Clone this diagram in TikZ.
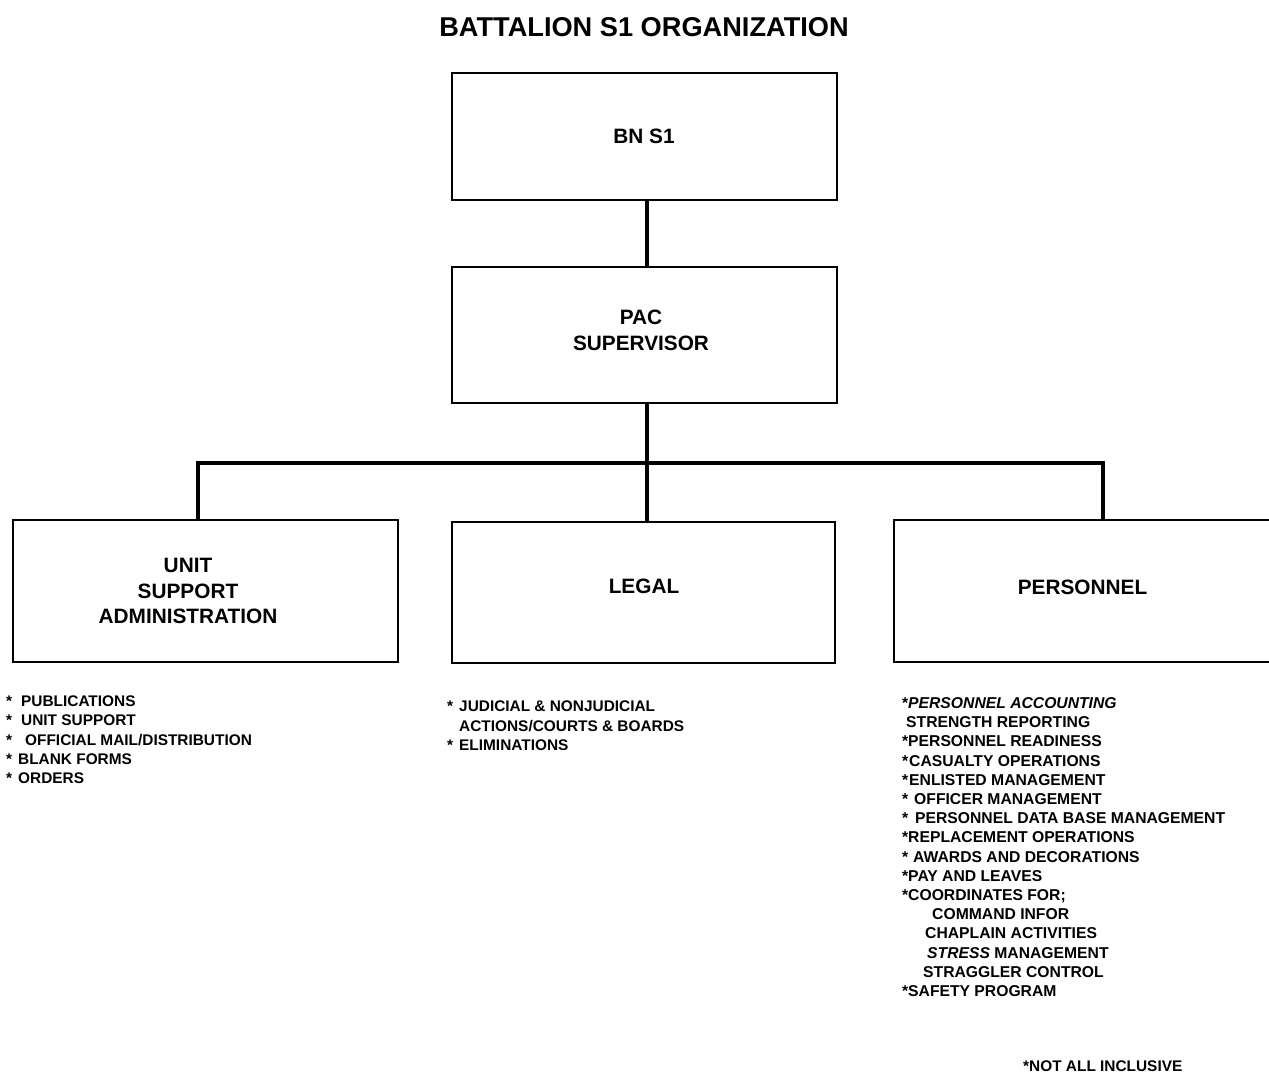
\documentclass[tikz,border=0pt]{standalone}
\usepackage{fontspec}
\setmainfont{Liberation Sans}
% asterisk bullet set in a box of the given width
\newcommand\bul[1]{\makebox[#1][l]{*}}
\begin{document}
\begin{tikzpicture}[x=1pt,y=-1pt,
  orgbox/.style={draw,line width=2.4pt,minimum width=385pt,inner sep=0pt,outer sep=0pt},
  boxlabel/.style={font=\fontsize{20.8}{25.8}\selectfont\bfseries,align=center,inner sep=0pt},
  itemlist/.style={align=left,inner sep=0pt,anchor=north west},
  link/.style={line width=4.5pt}]
\useasboundingbox[fill=white] (0,0) rectangle (1269,1075);

% title
\node[font=\fontsize{27.2}{30}\selectfont\bfseries,inner sep=0pt] (title) at (644,27.5) {BATTALION S1 ORGANIZATION};

% boxes
\node[orgbox,minimum height=127pt] (bns1) at (644.5,136.5) {};
\node[orgbox,minimum height=136pt] (pac) at (644.5,335) {};
\node[orgbox,minimum height=142pt] (unit) at (205.5,591) {};
\node[orgbox,minimum width=383pt,minimum height=141pt] (legal) at (643.5,592.5) {};
\node[orgbox,minimum height=142pt] (pers) at (1086.5,591) {};

% box labels
\node[boxlabel] (bns1lbl) at (644,136) {BN S1};
\node[boxlabel] (paclbl) at (641,330) {PAC\\SUPERVISOR};
\node[boxlabel] (unitlbl) at (188,591) {UNIT\\SUPPORT\\ADMINISTRATION};
\node[boxlabel] (legallbl) at (644,586) {LEGAL};
\node[boxlabel] (perslbl) at (1082.5,587) {PERSONNEL};

% connectors
\coordinate (busM) at (647,463);
\coordinate (busL) at (198,463);
\coordinate (busR) at (1103,463);
\draw[link] (bns1.south -| busM) -- (pac.north -| busM);
\draw[link] (pac.south -| busM) -- (legal.north -| busM);
\draw[link] (unit.north -| busL) -- (busL) -- (busR) -- (pers.north -| busR);

% duty lists
\node[itemlist,font=\fontsize{15.4}{19.25}\selectfont\bfseries] (unitlist) at (6,695.6) {%
\bul{15pt}PUBLICATIONS\\
\bul{15pt}UNIT SUPPORT\\
\bul{19pt}OFFICIAL MAIL/DISTRIBUTION\\
\bul{12pt}BLANK FORMS\\
\bul{12pt}ORDERS};

\node[itemlist,font=\fontsize{15.4}{19.5}\selectfont\bfseries] (legallist) at (447,700.6) {%
\bul{12pt}JUDICIAL \& NONJUDICIAL\\
\hspace*{12pt}ACTIONS/COURTS \& BOARDS\\
\bul{12pt}ELIMINATIONS};

\node[itemlist,font=\fontsize{15.7}{19.2}\selectfont\bfseries] (perslist) at (902,697.4) {%
\bul{6pt}\textit{PERSONNEL ACCOUNTING}\\
\hspace*{4pt}STRENGTH REPORTING\\
\bul{6pt}PERSONNEL READINESS\\
\bul{7pt}CASUALTY OPERATIONS\\
\bul{7pt}ENLISTED MANAGEMENT\\
\bul{12pt}OFFICER MANAGEMENT\\
\bul{13pt}PERSONNEL DATA BASE MANAGEMENT\\
\bul{6pt}REPLACEMENT OPERATIONS\\
\bul{11pt}AWARDS AND DECORATIONS\\
\bul{6pt}PAY AND LEAVES\\
\bul{6pt}COORDINATES FOR;\\
\hspace*{30pt}COMMAND INFOR\\
\hspace*{23pt}CHAPLAIN ACTIVITIES\\
\hspace*{25pt}\textit{STRESS} MANAGEMENT\\
\hspace*{21pt}STRAGGLER CONTROL\\
\bul{6pt}SAFETY PROGRAM};

% footnote
\node[font=\fontsize{15.4}{18}\selectfont\bfseries,inner sep=0pt,anchor=west] (note) at (1023,1066) {*NOT ALL INCLUSIVE};
\end{tikzpicture}
\end{document}
